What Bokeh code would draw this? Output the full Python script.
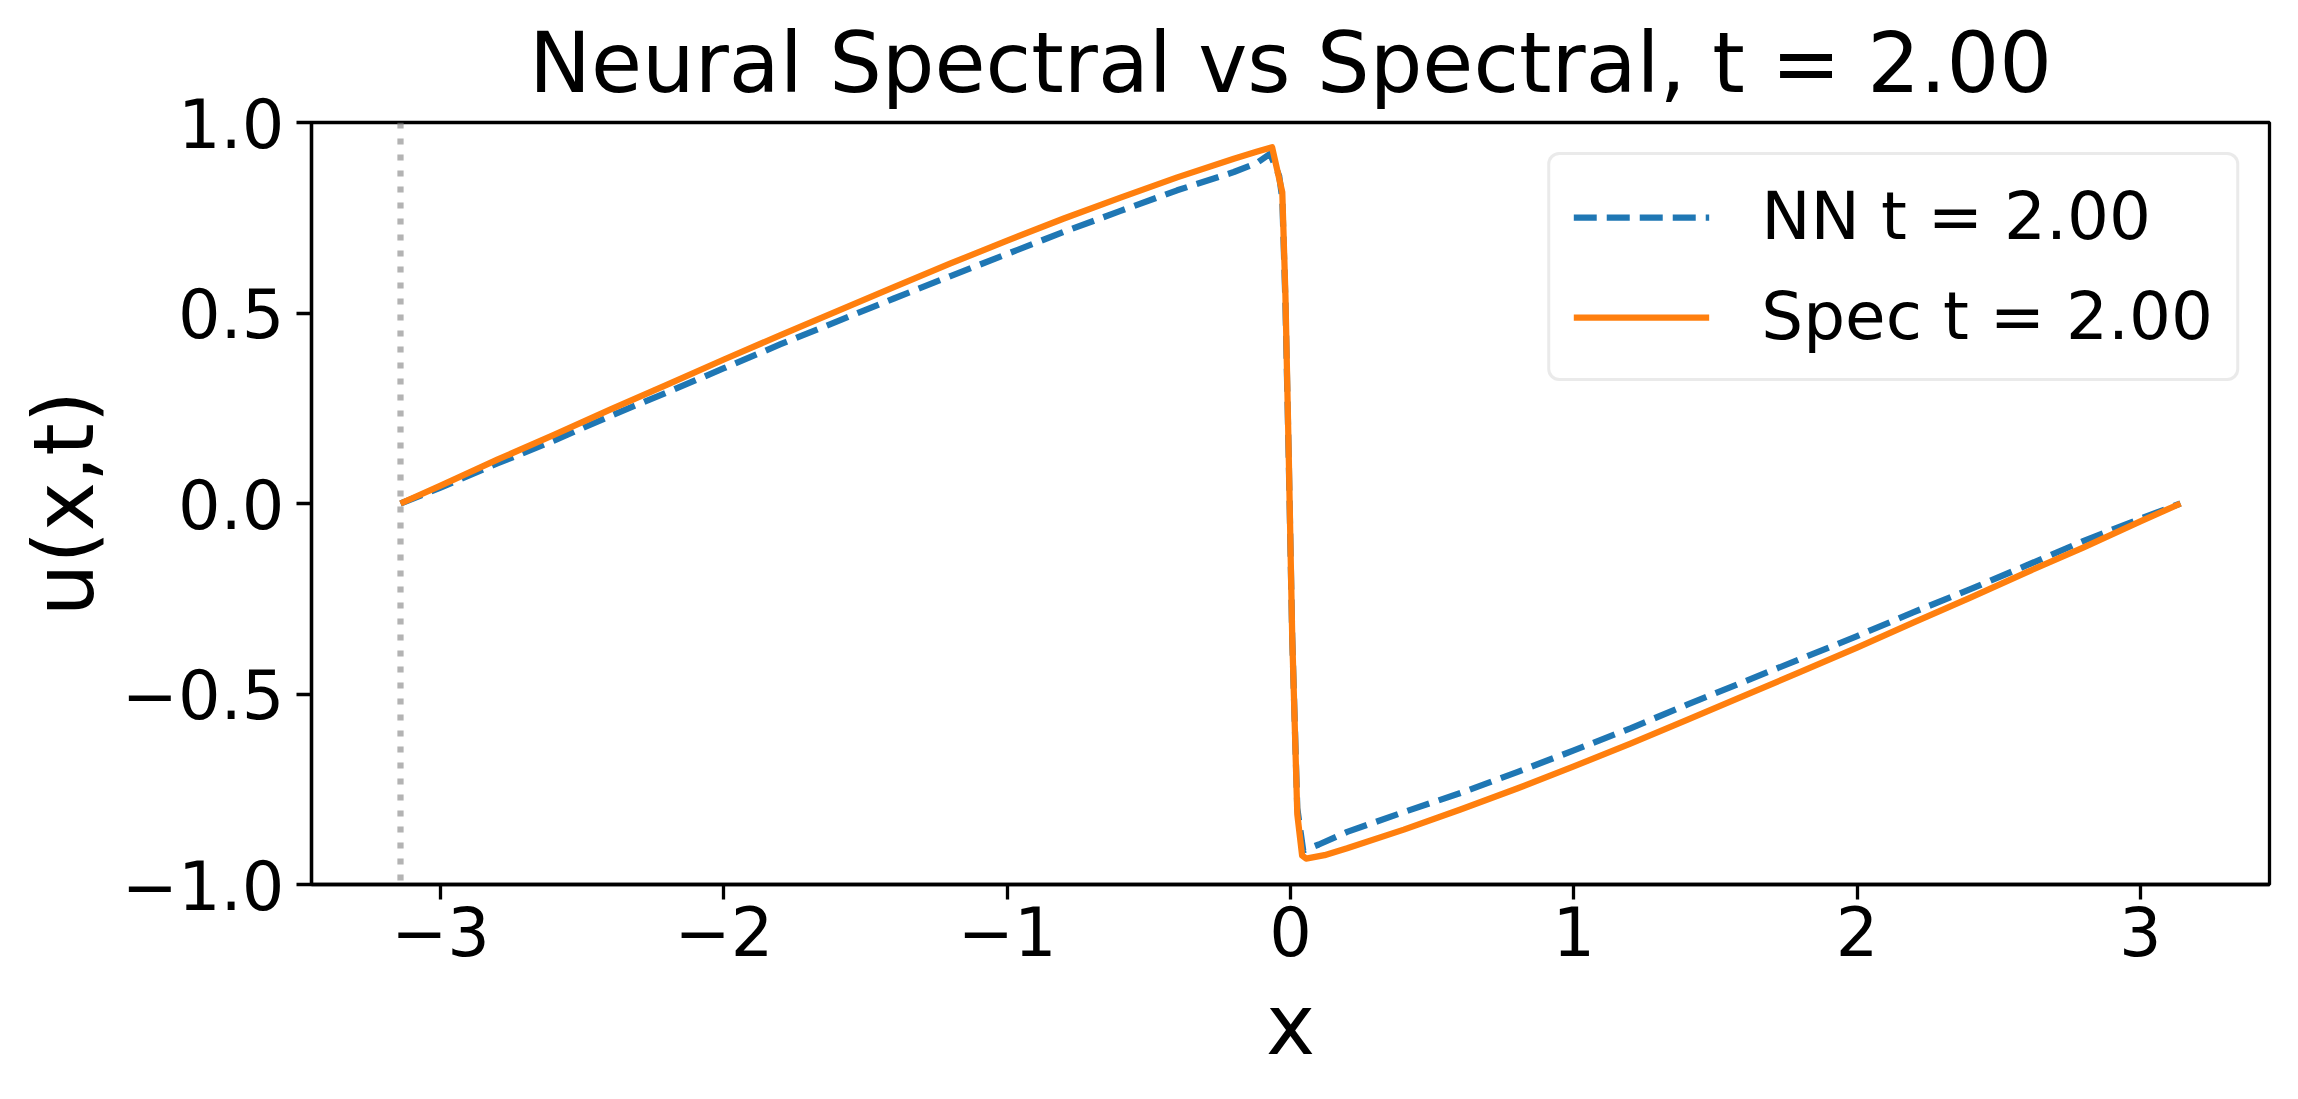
import numpy as np
from bokeh.plotting import figure
from bokeh.models import Range1d, FixedTicker, Span, Legend, LegendItem
from bokeh.embed import file_html
from bokeh.resources import INLINE

# ---------------- data ----------------
title_text = "Neural Spectral vs Spectral, t = 2.00"
x_label = "x"
y_label = "u(x,t)"
nn_label = "NN t = 2.00"
spec_label = "Spec t = 2.00"

spec_x = [-3.1416, -3.0, -2.8, -2.6, -2.4, -2.2, -2.0, -1.8, -1.6, -1.4, -1.2, -1.0,
          -0.8, -0.6, -0.4, -0.2, -0.12, -0.065, -0.029, -0.018, -0.006, 0.006,
          0.024, 0.041, 0.055, 0.12, 0.2, 0.4, 0.6, 0.8, 1.0, 1.2, 1.4, 1.6, 1.8,
          2.0, 2.2, 2.4, 2.6, 2.8, 3.0, 3.1416]
spec_u = [0.0, 0.047, 0.115, 0.18, 0.247, 0.312, 0.378, 0.442, 0.505, 0.568, 0.63, 0.69,
          0.748, 0.803, 0.856, 0.905, 0.923, 0.935, 0.817, 0.549, 0.12, -0.348,
          -0.816, -0.924, -0.932, -0.923, -0.905, -0.856, -0.803, -0.748, -0.69, -0.63,
          -0.568, -0.505, -0.442, -0.378, -0.312, -0.247, -0.18, -0.115, -0.047, 0.0]

nn_x = [-3.1416, -3.0, -2.8, -2.6, -2.4, -2.2, -2.0, -1.8, -1.6, -1.4, -1.2, -1.0,
        -0.8, -0.6, -0.4, -0.2, -0.12, -0.072, -0.04, -0.029, -0.018, -0.006, 0.006,
        0.024, 0.045, 0.1, 0.2, 0.4, 0.6, 0.8, 1.0, 1.2, 1.4, 1.6, 1.8, 2.0, 2.2,
        2.4, 2.6, 2.8, 3.0, 3.1416]
nn_u = [0.0, 0.042, 0.105, 0.165, 0.23, 0.292, 0.355, 0.418, 0.478, 0.538, 0.597, 0.655,
        0.713, 0.768, 0.822, 0.87, 0.893, 0.918, 0.86, 0.80, 0.53, 0.11, -0.35,
        -0.80, -0.911, -0.895, -0.862, -0.81, -0.76, -0.705, -0.648, -0.59, -0.528,
        -0.468, -0.408, -0.348, -0.285, -0.225, -0.162, -0.098, -0.04, 0.0]

x_ticks = [-3, -2, -1, 0, 1, 2, 3]
x_tick_labels = ["\u22123", "\u22122", "\u22121", "0", "1", "2", "3"]
y_ticks = [-1.0, -0.5, 0.0, 0.5, 1.0]
y_tick_labels = ["\u22121.0", "\u22120.5", "0.0", "0.5", "1.0"]
y_limits = (-1.0, 1.0)

# ---------------- figure ----------------
FONT = "DejaVu Sans"
all_x = spec_x + nn_x
span_x = max(all_x) - min(all_x)
x_range = Range1d(min(all_x) - 0.05 * span_x, max(all_x) + 0.05 * span_x)

p = figure(width=2298, height=1099, output_backend="svg", toolbar_location=None,
           x_range=x_range, y_range=Range1d(*y_limits),
           min_border_left=311, min_border_right=29,
           min_border_top=122, min_border_bottom=215)
p.background_fill_color = "white"
p.border_fill_color = "white"
p.outline_line_color = "black"
p.outline_line_width = 3.3
p.xgrid.visible = False
p.ygrid.visible = False

p.title.text = title_text
p.title.text_font = FONT
p.title.text_font_size = "83px"
p.title.text_font_style = "normal"
p.title.text_color = "black"
p.title.align = "center"
p.title.standoff = 22

r_nn = p.line(nn_x, nn_u, line_color="#1f77b4", line_width=6.25,
              line_dash="23 10", line_join="round")
r_spec = p.line(spec_x, spec_u, line_color="#ff7f0e", line_width=6.25,
                line_join="round")

vline = Span(location=spec_x[0], dimension="height", line_color="gray",
             line_alpha=0.6, line_width=6.25, line_dash="6 10")
p.add_layout(vline)

for ax in (p.xaxis, p.yaxis):
    ax.axis_line_width = 3.3
    ax.axis_line_color = "black"
    ax.major_tick_line_width = 3.3
    ax.major_tick_line_color = "black"
    ax.major_tick_out = 15
    ax.major_tick_in = 0
    ax.minor_tick_line_color = None
    ax.major_label_text_font = FONT
    ax.major_label_text_font_size = "67px"
    ax.major_label_text_color = "black"
    ax.axis_label_text_font = FONT
    ax.axis_label_text_font_size = "83px"
    ax.axis_label_text_font_style = "normal"
    ax.axis_label_text_color = "black"

p.xaxis.major_label_standoff = 6
p.yaxis.major_label_standoff = 12
p.xaxis.ticker = FixedTicker(ticks=x_ticks)
p.xaxis.major_label_overrides = {t: l for t, l in zip(x_ticks, x_tick_labels)}
p.yaxis.ticker = FixedTicker(ticks=y_ticks)
p.yaxis.major_label_overrides = {t: l for t, l in zip(y_ticks, y_tick_labels)}
p.xaxis.axis_label = x_label
p.yaxis.axis_label = y_label
p.xaxis.axis_label_standoff = 18
p.yaxis.axis_label_standoff = 6

legend = Legend(items=[LegendItem(label=nn_label, renderers=[r_nn]),
                       LegendItem(label=spec_label, renderers=[r_spec])],
                location="top_right")
legend.margin = 30
legend.padding = 23
legend.spacing = 23
legend.glyph_width = 136
legend.glyph_height = 66
legend.label_height = 66
legend.label_standoff = 52
legend.label_text_font = FONT
legend.label_text_font_size = "66px"
legend.label_text_color = "black"
legend.border_line_color = "#d6d6d6"
legend.border_line_width = 3.3
legend.background_fill_color = "white"
legend.background_fill_alpha = 1.0
if "border_radius" in Legend.properties():
    legend.border_radius = 12
p.add_layout(legend)

open("out.html", "w").write(file_html(p, INLINE))
